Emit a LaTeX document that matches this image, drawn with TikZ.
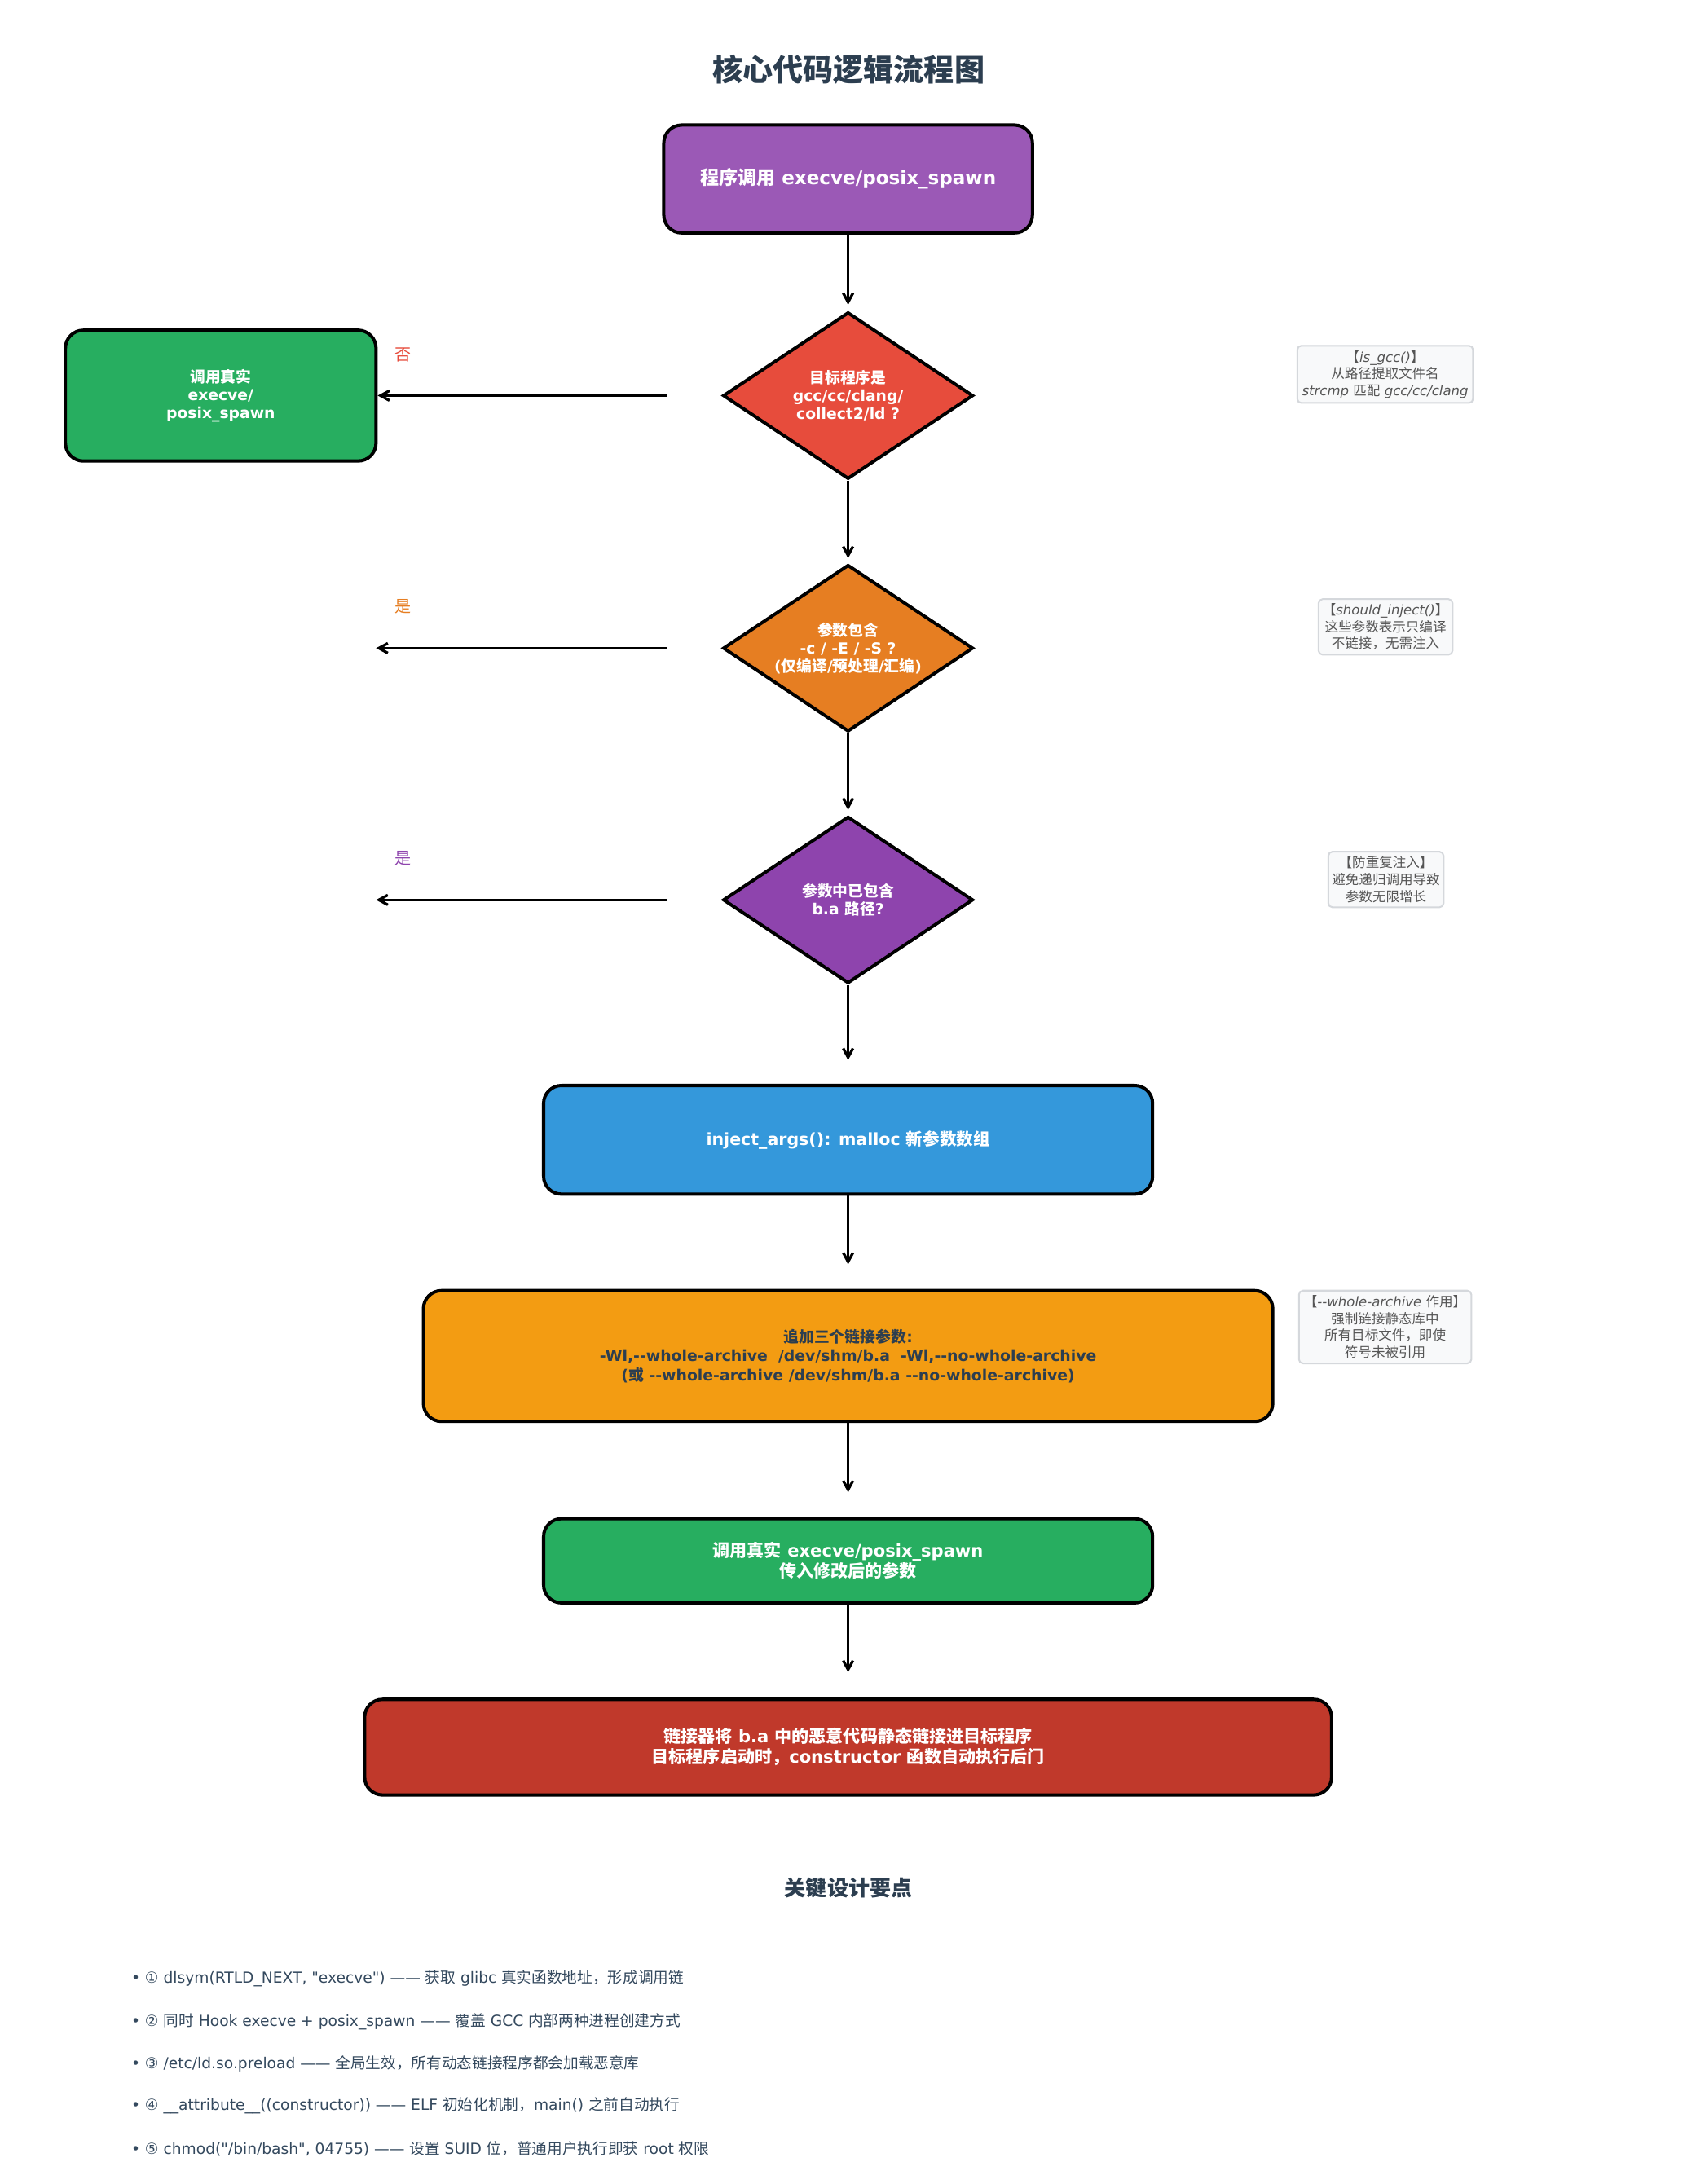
\documentclass[tikz,border=0pt]{standalone}
\usepackage{fontspec}
\setmainfont{DejaVu Sans}[Ligatures=TeXOff]
\newfontfamily\cjkfont{Noto Sans CJK SC}[Ligatures=TeXOff]
\usetikzlibrary{shapes.geometric,arrows.meta}
% automatic switch to the CJK font for CJK characters
\XeTeXinterchartokenstate=1
\newXeTeXintercharclass\cjkclass
\newcount\cjkc
\def\setcjkrange#1#2{\cjkc=#1\relax\loop\XeTeXcharclass\cjkc=\cjkclass\relax\ifnum\cjkc<#2\relax\advance\cjkc by 1\relax\repeat}
\setcjkrange{"3000}{"303F}
\setcjkrange{"4E00}{"9FFF}
\setcjkrange{"FF00}{"FFEF}
\cjkc=0
\loop
  \ifnum\cjkc=\cjkclass\else
  \XeTeXinterchartoks\cjkc\cjkclass={\cjkfont}%
  \XeTeXinterchartoks\cjkclass\cjkc={\rmfamily}%
  \fi
  \ifnum\cjkc<7 \advance\cjkc by 1 \repeat
\XeTeXinterchartoks 4095 \cjkclass={\cjkfont}
\XeTeXinterchartoks \cjkclass 4095={\rmfamily}
\definecolor{cpurple}{HTML}{9B59B6}
\definecolor{cred}{HTML}{E74C3C}
\definecolor{cgreen}{HTML}{27AE60}
\definecolor{corange}{HTML}{E67E22}
\definecolor{cviolet}{HTML}{8E44AD}
\definecolor{cblue}{HTML}{3498DB}
\definecolor{cyellow}{HTML}{F39C12}
\definecolor{cdarkred}{HTML}{C0392B}
\definecolor{cdark}{HTML}{2C3E50}
\definecolor{notebg}{HTML}{F8F9FA}
\definecolor{notebd}{HTML}{D5D8DC}
\definecolor{notetx}{HTML}{555555}
\definecolor{bullettx}{HTML}{34495E}
\begin{document}
\begin{tikzpicture}[x=1pt,y=-1pt,
  box/.style={draw=black, line width=4pt, rounded corners=22pt, inner sep=0pt, align=center, text=white, font=\bfseries\fontsize{21}{25}\selectfont},
  dia/.style={diamond, draw=black, line width=4pt, inner sep=0pt, minimum width=306pt, minimum height=204pt},
  diatext/.style={align=center, text=white, inner sep=0pt, font=\bfseries\fontsize{18.7}{22}\selectfont},
  note/.style={draw=notebd, fill=notebg, line width=2pt, rounded corners=5pt, align=center, text=notetx, font=\fontsize{16.5}{20.5}\selectfont, inner sep=0pt},
  conn/.style={-{Straight Barb[length=11pt,width=12pt]}, line width=3.3pt},
  lab/.style={font=\fontsize{20}{24}\selectfont},
  bul/.style={anchor=west, text=bullettx, font=\fontsize{18.6}{22}\selectfont},
]
\useasboundingbox (0,0) rectangle (2074,2672);
\fill[white] (0,0) rectangle (2074,2672);

\node[text=cdark, font=\bfseries\fontsize{37}{40}\selectfont] (title) at (1038,85) {核心代码逻辑流程图};

\node[box, fill=cpurple, minimum width=451pt, minimum height=132pt, font=\bfseries\fontsize{23}{27}\selectfont] (b1) at (1037.5,219) {程序调用 execve/posix\_spawn};

\node[dia, fill=cred] (d1) at (1037.5,484) {};
\node[diatext] (d1t) at (d1.center) {目标程序是\\gcc/cc/clang/\\collect2/ld ?};
\node[box, fill=cgreen, minimum width=380pt, minimum height=160pt, font=\bfseries\fontsize{18.7}{22}\selectfont] (g1) at (270,484) {调用真实\\execve/\\posix\_spawn};
\node[lab, text=cred] (no1) at (493,434) {否};
\node[note, minimum width=215pt, minimum height=70pt] (n1) at (1694.5,458) {【\textit{is\_gcc()}】\\从路径提取文件名\\\textit{strcmp} 匹配 \textit{gcc/cc/clang}};

\node[dia, fill=corange] (d2) at (1037.5,793) {};
\node[diatext] (d2t) at (d2.center) {参数包含\\-c / -E / -S ?\\(仅编译/预处理/汇编)};
\node[lab, text=corange] (y2) at (493,742) {是};
\coordinate (e2) at (460,793);
\node[note, minimum width=164pt, minimum height=68pt] (n2) at (1695,767) {【\textit{should\_inject()}】\\这些参数表示只编译\\不链接，无需注入};

\node[dia, fill=cviolet] (d3) at (1037.5,1101) {};
\node[diatext] (d3t) at (d3.center) {参数中已包含\\b.a 路径?};
\node[lab, text=cviolet] (y3) at (493,1050) {是};
\coordinate (e3) at (460,1101);
\node[note, minimum width=141pt, minimum height=68pt] (n3) at (1695.5,1076) {【防重复注入】\\避免递归调用导致\\参数无限增长};

\node[box, fill=cblue, minimum width=745pt, minimum height=133pt, font=\bfseries\fontsize{20.5}{25}\selectfont] (b2) at (1037.5,1394.5) {inject\_args(): malloc 新参数数组};

\node[box, fill=cyellow, text=cdark, minimum width=1039pt, minimum height=160pt, font=\bfseries\fontsize{18.8}{23}\selectfont] (b3) at (1037.5,1659) {追加三个链接参数:\\-Wl,--whole-archive\ \ /dev/shm/b.a\ \ -Wl,--no-whole-archive\\(或 --whole-archive /dev/shm/b.a --no-whole-archive)};
\node[note, minimum width=211pt, minimum height=89pt] (n4) at (1694.5,1623.5) {【\textit{--whole-archive} 作用】\\强制链接静态库中\\所有目标文件，即使\\符号未被引用};

\node[box, fill=cgreen, minimum width=745pt, minimum height=103pt] (b4) at (1037.5,1909.5) {调用真实 execve/posix\_spawn\\传入修改后的参数};

\node[box, fill=cdarkred, minimum width=1183pt, minimum height=117pt] (b5) at (1037.5,2137.5) {链接器将 b.a 中的恶意代码静态链接进目标程序\\目标程序启动时，constructor 函数自动执行后门};

\node[text=cdark, font=\bfseries\fontsize{26}{30}\selectfont] (kt) at (1038,2310) {关键设计要点};

\node[bul] (p1) at (157,2421) {• ① dlsym(RTLD\_NEXT, "execve") —— 获取 glibc 真实函数地址，形成调用链};
\node[bul] (p2) at (157,2473) {• ② 同时 Hook execve + posix\_spawn —— 覆盖 GCC 内部两种进程创建方式};
\node[bul] (p3) at (157,2525) {• ③ /etc/ld.so.preload —— 全局生效，所有动态链接程序都会加载恶意库};
\node[bul] (p4) at (157,2576) {• ④ \_\_attribute\_\_((constructor)) —— ELF 初始化机制，main() 之前自动执行};
\node[bul] (p5) at (157,2629) {• ⑤ chmod("/bin/bash", 04755) —— 设置 SUID 位，普通用户执行即获 root 权限};

\draw[conn, shorten >=7pt] (b1.south) -- (d1.north);
\draw[conn, shorten >=6pt] (d1.south) -- (d2.north);
\draw[conn, shorten >=6pt] (d2.south) -- (d3.north);
\draw[conn, shorten >=29pt] (d3.south) -- (b2.north);
\draw[conn, shorten >=30pt] (b2.south) -- (b3.north);
\draw[conn, shorten >=30pt] (b3.south) -- (b4.north);
\draw[conn, shorten >=31pt] (b4.south) -- (b5.north);
\draw[conn, shorten <=66pt] (d1.west) -- (g1.east);
\draw[conn, shorten <=66pt] (d2.west) -- (e2);
\draw[conn, shorten <=66pt] (d3.west) -- (e3);
\end{tikzpicture}
\end{document}
